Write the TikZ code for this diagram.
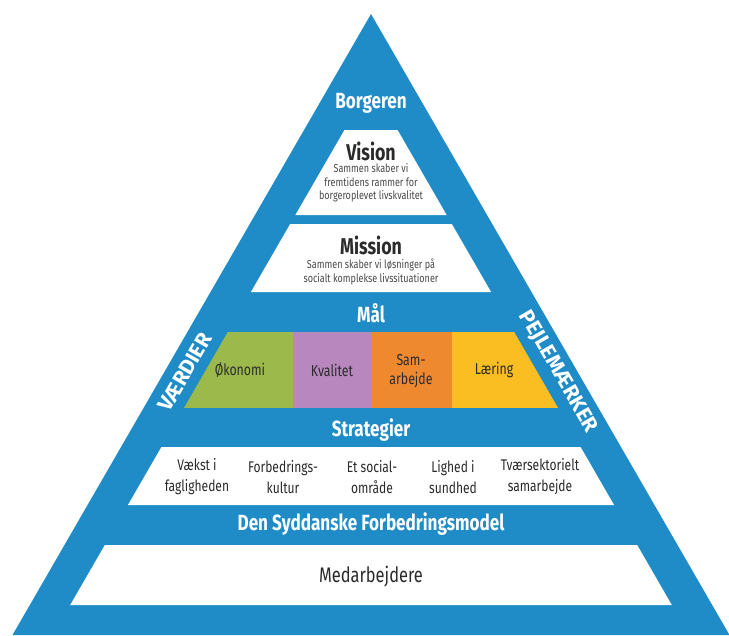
\documentclass[tikz,border=0pt]{standalone}
\usepackage{fontspec}
\setmainfont[FakeStretch=0.78]{Fira Sans}
\newfontfamily\sidefont{Fira Sans}

\definecolor{pyrblue}{HTML}{1F8CC8}
\definecolor{goalgreen}{HTML}{9CBA4B}
\definecolor{goalpurple}{HTML}{B787BE}
\definecolor{goalorange}{HTML}{EE8930}
\definecolor{goalyellow}{HTML}{FBBE22}
\definecolor{darktext}{HTML}{2B2B2B}
\definecolor{graytext}{HTML}{4A4A4A}

% layer inside the pyramid: top y, bottom y, path options
\newcommand{\layer}[3]{%
  \pgfmathsetmacro\tw{(#1-84)*0.57735}%
  \pgfmathsetmacro\bw{(#2-84)*0.57735}%
  \path[#3] (371-\tw,#1) -- (371+\tw,#1) -- (371+\bw,#2) -- (371-\bw,#2) -- cycle;}

\begin{document}
\begin{tikzpicture}[
  x=0.02cm, y=-0.02cm,
  head/.style={text=white, font=\bfseries\fontsize{12.5}{14}\selectfont},
  title/.style={text=darktext, font=\bfseries\fontsize{13}{15}\selectfont},
  sub/.style={text=graytext, align=center, font=\fontsize{6.6}{7.8}\selectfont},
  goal/.style={text=darktext, align=center, inner sep=1pt, font=\fontsize{9}{11}\selectfont},
  strat/.style={text=darktext, align=center, font=\fontsize{8.8}{12}\selectfont},
  side/.style={text=white, inner sep=0pt, font=\sidefont\bfseries\fontsize{12}{14}\selectfont}
]
\useasboundingbox (0,0) rectangle (729,635);

% pyramid
\fill[pyrblue] (371,14) -- (729.5,635) -- (12.5,635) -- cycle;
\layer{130}{215}{fill=white}
\layer{224}{292}{fill=white}
\layer{447}{505}{fill=white}
\layer{545}{605}{fill=white}

% goals
\begin{scope}
  \layer{332}{408}{clip}
  \fill[goalgreen]  (150,332) rectangle (293,408);
  \fill[goalpurple] (293,332) rectangle (372,408);
  \fill[goalorange] (372,332) rectangle (452,408);
  \fill[goalyellow] (452,332) rectangle (600,408);
\end{scope}

\node[head] (borger) at (371,103) {Borgeren};
\node[title] (vision) at (371,151) {Vision};
\node[sub] (visiontxt) at (371,183) {Sammen skaber vi\\fremtidens rammer for\\borgeroplevet livskvalitet};
\node[title] (mission) at (371,245) {Mission};
\node[sub] (missiontxt) at (371,272) {Sammen skaber vi løsninger på\\socialt komplekse livssituationer};

\node[head] (maal) at (371,313) {Mål};
\node[goal] (oekonomi) at (240,370) {Økonomi};
\node[goal] (kvalitet) at (332,370) {Kvalitet};
\node[goal] (samarb) at (411,371) {Sam-\\arbejde};
\node[goal] (laering) at (494,370) {Læring};

\node[head] (strat) at (371,430) {Strategier};
\node[strat] (vaekst) at (197,477) {Vækst i\\fagligheden};
\node[strat] (kultur) at (283,477) {Forbedrings-\\kultur};
\node[strat] (social) at (372,477) {Et social-\\område};
\node[strat] (lighed) at (453,477) {Lighed i\\sundhed};
\node[strat] (tvaer) at (540,477) {Tværsektorielt\\samarbejde};

\node[head] (model) at (371,524) {Den Syddanske Forbedringsmodel};
\node[title, font=\fontsize{12}{14}\selectfont] (medarb) at (371,577) {Medarbejdere};

\node[side, rotate=60] (vaerdier) at (185,372) {VÆRDIER};
\node[side, rotate=-60] (pejle) at (558,372) {PEJLEMÆRKER};
\end{tikzpicture}
\end{document}
